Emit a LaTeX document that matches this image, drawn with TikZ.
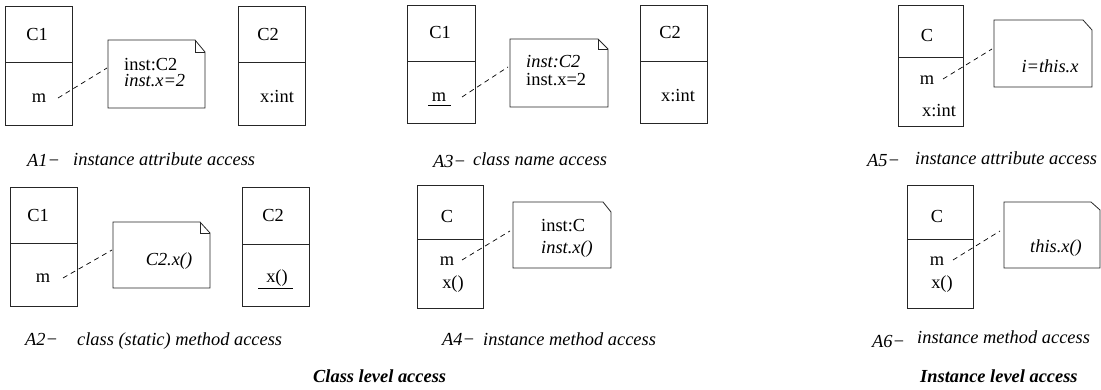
\documentclass[tikz,border=0pt]{standalone}
\usepackage{fontspec}
\setmainfont{Liberation Serif}
\newcommand\fsz{\fontsize{18.4}{20}\selectfont}
\newcommand\mydash{\char"2212\relax}
% class box: x1 y1 x2 y2 ydivider
\newcommand\myclassbox[5]{\draw[boxline] (#1,#2) rectangle (#3,#4); \draw[boxline] (#1,#5) -- (#3,#5);}
% note with fold: x1 y1 x2 y2 foldx foldy
\newcommand\myfoldnote[6]{\draw[boxline] (#1,#2) -- (#5,#2) -- (#3,#6) -- (#3,#4) -- (#1,#4) -- cycle; \draw[boxline] (#5,#2) -- (#5,#6) -- (#3,#6);}
% note with cut corner only
\newcommand\mycutnote[6]{\draw[boxline] (#1,#2) -- (#5,#2) -- (#3,#6) -- (#3,#4) -- (#1,#4) -- cycle;}
\begin{document}
\begin{tikzpicture}[x=1pt,y=-1pt,
  boxline/.style={line width=0.8pt, draw=black!85},
  link/.style={line width=0.7pt, dash pattern=on 5pt off 4pt},
  ctxt/.style={inner sep=0pt, anchor=base, font=\fsz},
  ltxt/.style={inner sep=0pt, anchor=base west, font=\fsz},
  itxt/.style={inner sep=0pt, anchor=base west, font=\fsz\itshape},
  btxt/.style={inner sep=0pt, anchor=base west, font=\fsz\bfseries\itshape}]
\useasboundingbox (0,0) rectangle (1101,390);

% ---------- A1 ----------
\myclassbox{5}{6}{72}{125}{62}
\node[ctxt] (a1c1) at (37,41) {C1};
\node[ctxt] (a1m) at (39,103) {m};
\myfoldnote{108}{40}{205}{108}{195}{52}
\node[ltxt] (a1n1) at (124,71) {inst:C2};
\node[itxt] (a1n2) at (124,87) {inst.x=2};
\myclassbox{238}{6}{305}{125}{62}
\node[ctxt] (a1c2) at (268,41) {C2};
\node[ctxt] (a1x) at (277,103) {x:int};
\coordinate (a1s) at (58,98);
\coordinate (a1e) at (107,68);
\draw[link] (a1s) -- (a1e);
\node[itxt] (a1l) at (27,167) {A1\mydash};
\node[itxt] (a1t) at (73,166) {instance attribute access};

% ---------- A2 ----------
\myclassbox{10}{187}{77}{306}{243}
\node[ctxt] (a2c1) at (38,222) {C1};
\node[ctxt] (a2m) at (43,283) {m};
\myfoldnote{113}{222}{210}{288}{200}{233}
\node[inner sep=0pt, anchor=base, font=\fsz\itshape] (a2n) at (169,266) {C2.x()};
\myclassbox{242}{187}{309}{306}{244}
\node[ctxt] (a2c2) at (273,222) {C2};
\node[ctxt] (a2x) at (277,283) {x()};
\coordinate (a2u1) at (258,288);
\coordinate (a2u2) at (293,288);
\draw[line width=0.8pt] (a2u1) -- (a2u2);
\coordinate (a2s) at (63,278);
\coordinate (a2e) at (112,250);
\draw[link] (a2s) -- (a2e);
\node[itxt] (a2l) at (25,345) {A2\mydash};
\node[itxt] (a2t) at (77,345) {class (static) method access};

% ---------- A3 ----------
\myclassbox{407}{5}{475}{123}{61}
\node[ctxt] (a3c1) at (440,39) {C1};
\node[ctxt] (a3m) at (439,102) {m};
\coordinate (a3u1) at (428,105);
\coordinate (a3u2) at (451,105);
\draw[line width=0.8pt] (a3u1) -- (a3u2);
\myfoldnote{510}{39}{608}{107}{598}{49}
\node[itxt] (a3n1) at (526,68) {inst:C2};
\node[ltxt] (a3n2) at (526,86) {inst.x=2};
\myclassbox{640}{5}{707}{123}{61}
\node[ctxt] (a3c2) at (670,39) {C2};
\node[ctxt] (a3x) at (678,102) {x:int};
\coordinate (a3s) at (462,97);
\coordinate (a3e) at (508,67);
\draw[link] (a3s) -- (a3e);
\node[itxt] (a3l) at (433,168) {A3\mydash};
\node[itxt] (a3t) at (473,166) {class name access};

% ---------- A4 ----------
\myclassbox{417}{185}{483}{308}{239}
\node[ctxt] (a4c) at (447,223) {C};
\node[ctxt] (a4m) at (447,266) {m};
\node[ctxt] (a4x) at (453,288) {x()};
\mycutnote{513}{202}{611}{268}{603}{212}
\node[ltxt] (a4n1) at (541,232) {inst:C};
\node[itxt] (a4n2) at (541,254) {inst.x()};
\coordinate (a4s) at (462,260);
\coordinate (a4e) at (510,231);
\draw[link] (a4s) -- (a4e);
\node[itxt] (a4l) at (442,345) {A4\mydash};
\node[itxt] (a4t) at (483,345) {instance method access};

% ---------- A5 ----------
\myclassbox{898}{5}{963}{126}{57}
\node[ctxt] (a5c) at (927,42) {C};
\node[ctxt] (a5m) at (927,85) {m};
\node[ctxt] (a5x) at (939,117) {x:int};
\mycutnote{994}{20}{1092}{87}{1083}{30}
\node[inner sep=0pt, anchor=base, font=\fsz\itshape] (a5n) at (1050,73) {i=this.x};
\coordinate (a5s) at (943,79);
\coordinate (a5e) at (992,49);
\draw[link] (a5s) -- (a5e);
\node[itxt] (a5l) at (867,167) {A5\mydash};
\node[itxt] (a5t) at (915,165) {instance attribute access};

% ---------- A6 ----------
\myclassbox{907}{185}{973}{308}{239}
\node[ctxt] (a6c) at (937,223) {C};
\node[ctxt] (a6m) at (937,266) {m};
\node[ctxt] (a6x) at (942,288) {x()};
\mycutnote{1004}{202}{1100}{268}{1091}{210}
\node[inner sep=0pt, anchor=base, font=\fsz\itshape] (a6n) at (1056,253) {this.x()};
\coordinate (a6s) at (953,260);
\coordinate (a6e) at (1000,231);
\draw[link] (a6s) -- (a6e);
\node[itxt] (a6l) at (872,347) {A6\mydash};
\node[itxt] (a6t) at (917,343) {instance method access};

% ---------- headings ----------
\node[btxt] (hcls) at (313,382) {Class level access};
\node[btxt] (hins) at (920,382) {Instance level access};
\end{tikzpicture}
\end{document}
